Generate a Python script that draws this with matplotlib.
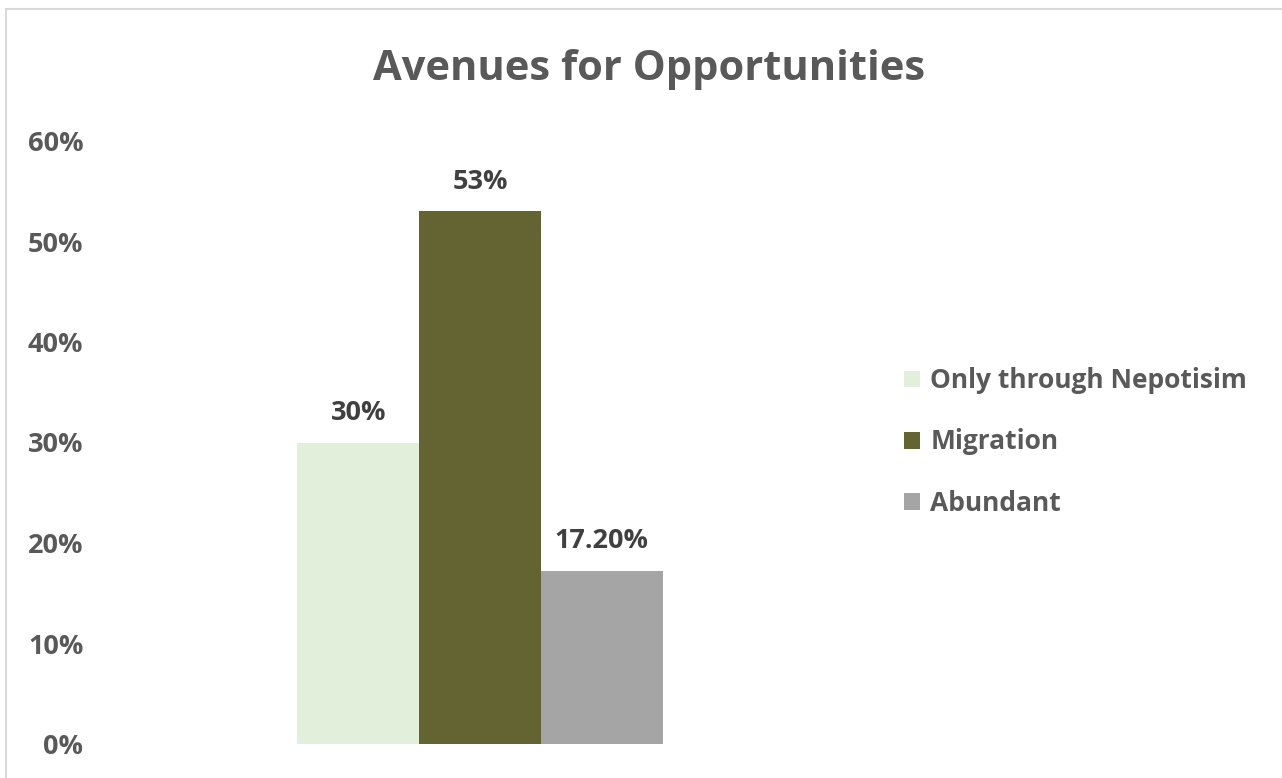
import matplotlib
matplotlib.use("Agg")
import matplotlib.pyplot as plt
from matplotlib.patches import Rectangle, Patch
from matplotlib.ticker import PercentFormatter

categories = ["Only through Nepotisim", "Migration", "Abundant"]
values = [0.30, 0.53, 0.172]
value_labels = ["30%", "53%", "17.20%"]
colors = ["#E2EFDA", "#646432", "#A5A5A5"]
title = "Avenues for Opportunities"

plt.rcParams["font.family"] = ["Open Sans", "DejaVu Sans"]
W, H = 1282, 778
fig = plt.figure(figsize=(W / 100, H / 100), dpi=100)

# light chart-area border (right and bottom edges run past the canvas)
fig.patches.append(Rectangle((6 / W, -0.1), 1.2, 1.1 - 9 / H,
                             transform=fig.transFigure, fill=False,
                             edgecolor="#D9D9D9", linewidth=1.5))

ax = fig.add_axes([100 / W, 34 / H, 760 / W, (744 - 141) / H])
x = [-1, 0, 1]
bars = ax.bar(x, values, width=1.0, color=colors, label=categories)
for b, lab in zip(bars, value_labels):
    ax.annotate(lab, (b.get_x() + b.get_width() / 2, b.get_height()),
                xytext=(0, 12), textcoords="offset points", ha="center",
                va="bottom", fontsize=19.5, fontweight="bold", color="#404040")

ax.set_xlim(-3.12, 3.12)
ax.set_ylim(0, 0.6)
ax.set_yticks([0, 0.1, 0.2, 0.3, 0.4, 0.5, 0.6])
ax.yaxis.set_major_formatter(PercentFormatter(1.0, decimals=0))
ax.set_xticks([])
for s in ax.spines.values():
    s.set_visible(False)
ax.tick_params(axis="y", length=0, pad=12, labelsize=19.5, labelcolor="#595959")
for t in ax.get_yticklabels():
    t.set_fontweight("bold")

fig.text(649 / W, 1 - 70 / H, title, ha="center", va="center",
         fontsize=30, fontweight="bold", color="#595959")

handles = [Patch(facecolor=c) for c in colors]
fig.legend(handles, categories, loc="center left",
           bbox_to_anchor=(880 / W, 1 - 442 / H), frameon=False,
           prop={"size": 19, "weight": "bold"}, labelcolor="#595959",
           handlelength=0.6, handleheight=0.6, handletextpad=0.4,
           labelspacing=1.3)

fig.savefig("out.png", dpi=100)
